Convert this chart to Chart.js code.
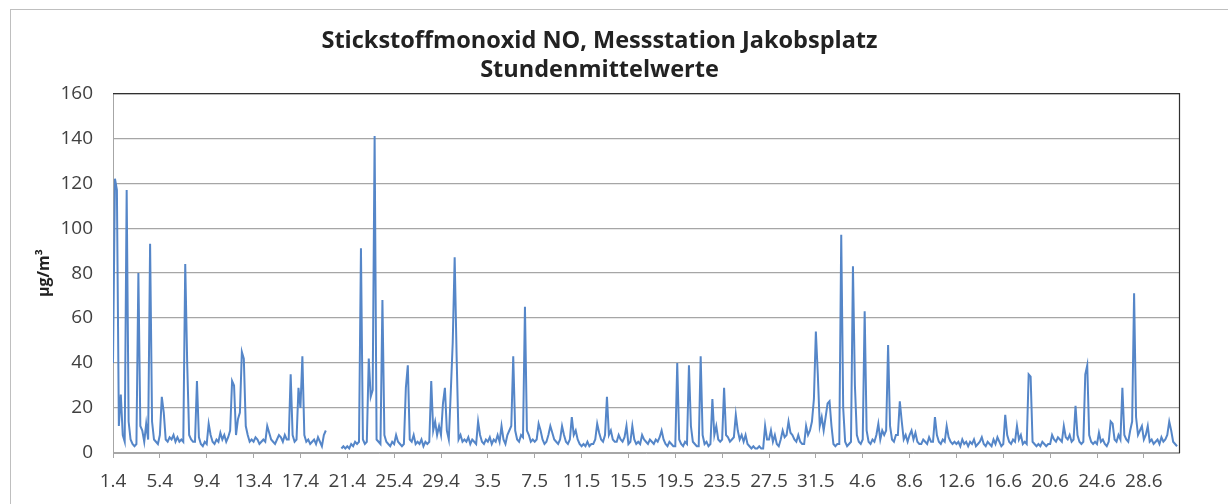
<!DOCTYPE html>
<html>
<head>
<meta charset="utf-8">
<script src="https://cdn.jsdelivr.net/npm/chart.js@4/dist/chart.umd.min.js"></script>
<style>
  html, body { margin: 0; padding: 0; background: #fff; }
  #box { position: relative; width: 1228px; height: 504px; }
</style>
</head>
<body>
<div id="box"><canvas id="noChart"></canvas></div>
<script>
// Stundenmittelwerte in 4-hour steps (6 values per day)
const aprilValues = [
    40,122,117,12,26,8,   5,117,14,6,4,3,   4,80,12,10,5,13,   6,93,14,6,5,4,   8,25,18,6,5,7,
    6,8,5,7,5,6,          5,84,40,8,6,5,    5,32,7,4,3,5,      4,13,8,5,4,6,    5,9,6,8,5,7,
    10,32,30,8,15,18,     45,42,12,8,5,6,   5,7,6,4,5,6,       5,12,9,6,5,4,    6,8,7,5,8,6,
    6,35,8,5,6,29,        20,43,8,5,6,4,    5,6,4,7,5,3,       8,10,null,null,null,null,
    null,null,null,2,3,2, 3,2,4,3,5,4,      5,91,6,4,5,42,     25,28,141,6,5,4, 68,8,5,4,3,5,
    4,8,5,4,3,4,          29,39,6,5,8,4,    5,4,6,3,5,4,       5,32,10,14,8,12, 8,22,29,10,6,27,
    49,87,43,6,8,5
];
const mayValues = [
    6,5,7,4,6,5,     4,14,8,5,4,6,    5,7,4,6,5,8,     5,12,6,4,8,10,   12,43,10,6,5,8,
    7,65,10,8,5,6,   5,6,13,10,6,4,   5,8,12,9,6,5,    4,6,12,8,5,4,    6,16,8,10,6,4,
    3,4,3,5,3,4,     4,6,13,9,6,5,    8,25,8,10,6,5,   5,8,6,5,7,12,    4,5,12,6,4,5,
    4,8,6,5,4,6,     5,4,6,5,7,10,    6,4,3,5,4,3,     3,40,6,4,3,5,    4,39,12,5,4,3,
    3,43,8,4,5,3,    4,24,8,12,6,5,   6,29,8,7,5,6,    7,17,10,6,8,5,   8,4,3,2,3,2,
    2,3,2,2,12,6,    6,10,5,8,4,3,    6,10,7,8,14,9,   8,6,5,8,5,4,     4,12,8,10,14,24,
    54,35,12,16,10,16
];
const juneValues = [
    22,23,12,4,3,4,  4,97,20,5,3,4,   5,83,30,8,5,4,   6,63,10,5,4,6,   5,8,13,6,10,8,
    10,48,12,6,5,8,  8,23,14,6,8,5,   8,10,6,9,5,4,    4,6,5,4,7,5,     5,16,8,5,4,6,
    5,12,7,5,4,5,    4,5,3,6,4,5,     3,5,4,6,3,4,     5,7,4,3,5,4,     3,6,4,7,5,3,
    4,17,8,5,4,6,    5,12,6,8,4,5,    4,35,34,5,4,3,   4,3,5,4,3,4,     4,8,6,5,7,6,
    5,12,7,6,8,5,    6,21,8,5,4,5,    35,39,8,5,4,5,   4,9,5,6,4,3,     5,14,13,6,5,8,
    6,29,8,6,5,10,   14,71,16,8,10,12, 6,8,12,5,6,4,   5,6,4,7,5,6,     8,14,10,5,4,3
];
const stepsPerDay = 6;
const dayCount = 91;
const tickLabels = ['1.4','5.4','9.4','13.4','17.4','21.4','25.4','29.4','3.5','7.5','11.5','15.5',
    '19.5','23.5','27.5','31.5','4.6','8.6','12.6','16.6','20.6','24.6','28.6'];
const tickEvery = 4; // days between labels
const yTicks = [0, 20, 40, 60, 80, 100, 120, 140, 160];

const allValues = aprilValues.concat(mayValues, juneValues);
const points = allValues.map((v, i) => ({ x: i / stepsPerDay, y: v }));

const textColor = '#404040';
const gridColor = '#a6a6a6';
const uiFont = "'Open Sans', 'Noto Sans', sans-serif";

// outer frame plus the dark top/right edge of the plot area
const framePlugin = {
    id: 'frame',
    beforeDraw(chart) {
        const ctx = chart.ctx;
        ctx.save();
        ctx.strokeStyle = '#bfbfbf';
        ctx.lineWidth = 1;
        ctx.strokeRect(10.5, 9.5, 1240, 520);
        ctx.restore();
    },
    afterDatasetsDraw(chart) {
        const a = chart.chartArea;
        const ctx = chart.ctx;
        ctx.save();
        ctx.strokeStyle = '#303030';
        ctx.lineWidth = 1.2;
        ctx.beginPath();
        ctx.moveTo(a.left, a.top + 0.5);
        ctx.lineTo(a.right + 0.5, a.top + 0.5);
        ctx.lineTo(a.right + 0.5, a.bottom);
        ctx.stroke();
        ctx.restore();
    }
};

new Chart(document.getElementById('noChart'), {
    type: 'line',
    data: {
        datasets: [{
            label: 'NO',
            data: points,
            borderColor: '#5586c8',
            borderWidth: 2,
            pointRadius: 0,
            tension: 0,
            spanGaps: false
        }]
    },
    options: {
        responsive: true,
        maintainAspectRatio: false,
        animation: false,
        events: [],
        layout: { padding: { left: 20, right: 49, top: 0, bottom: 0 } },
        plugins: {
            legend: { display: false },
            tooltip: { enabled: false },
            title: {
                display: true,
                text: ['Stickstoffmonoxid NO, Messstation Jakobsplatz', 'Stundenmittelwerte'],
                color: '#222222',
                font: { family: uiFont, size: 23.5, weight: 'bold', lineHeight: 1.27 },
                padding: { top: 26, bottom: 7.5 }
            }
        },
        scales: {
            x: {
                type: 'linear',
                min: 0,
                max: dayCount,
                afterBuildTicks: scale => {
                    scale.ticks = tickLabels.map((_, i) => ({ value: i * tickEvery }));
                },
                afterFit: scale => { scale.height = 51; },
                ticks: {
                    autoSkip: false,
                    maxRotation: 0,
                    padding: 12,
                    color: textColor,
                    font: { family: uiFont, size: 19 },
                    callback: value => tickLabels[Math.round(value / tickEvery)]
                },
                grid: {
                    drawOnChartArea: false,
                    drawTicks: true,
                    tickLength: 5,
                    color: gridColor
                },
                border: { color: gridColor, width: 1 }
            },
            y: {
                min: 0,
                max: 160,
                afterBuildTicks: scale => {
                    scale.ticks = yTicks.map(v => ({ value: v }));
                },
                afterFit: scale => { scale.width = 93; },
                ticks: {
                    padding: 20,
                    color: textColor,
                    font: { family: uiFont, size: 19 }
                },
                grid: {
                    color: gridColor,
                    lineWidth: 1.2,
                    drawTicks: false
                },
                border: { color: gridColor, width: 1 },
                title: {
                    display: true,
                    text: 'µg/m³',
                    color: '#222222',
                    font: { family: uiFont, size: 16, weight: 'bold' },
                    padding: { top: 15, bottom: 0 }
                }
            }
        }
    },
    plugins: [framePlugin]
});
</script>
</body>
</html>
